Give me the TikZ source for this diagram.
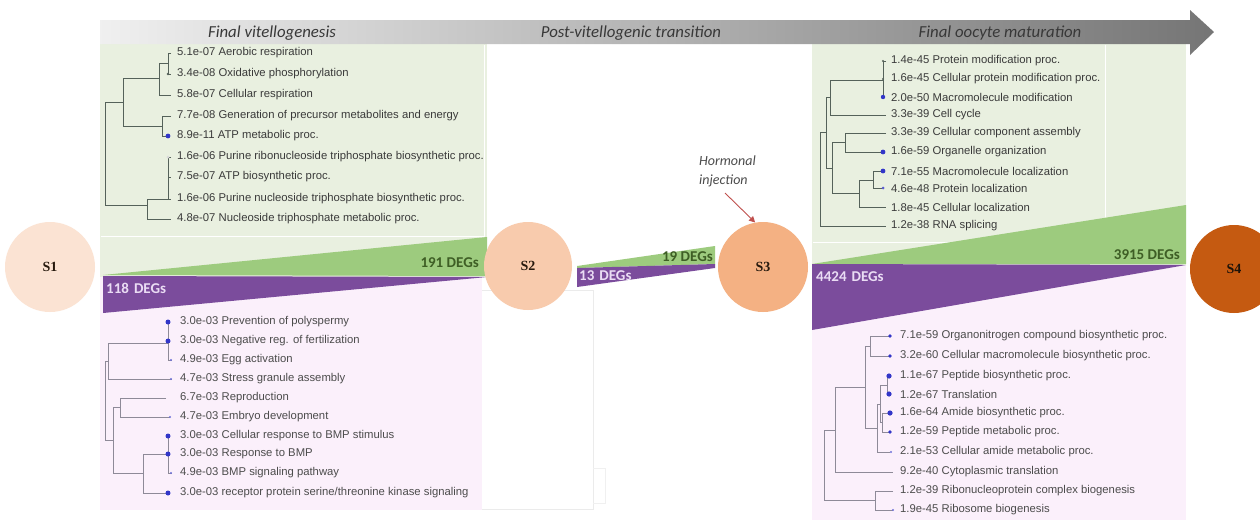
\documentclass[tikz,border=0pt]{standalone}
\usepackage{fontspec}
\setmainfont{Liberation Sans}
\newfontfamily\calfont{Carlito}
\newfontfamily\serfont{Liberation Serif}
\usetikzlibrary{arrows.meta}
\definecolor{boxgreen}{HTML}{E9F0E0}
\definecolor{boxpink}{HTML}{FBF0FB}
\definecolor{wedgegreen}{HTML}{9DCB7E}
\definecolor{wedgepurple}{HTML}{7B4C9C}
\definecolor{degdark}{HTML}{3E5E25}
\definecolor{deglight}{HTML}{EADCF4}
\definecolor{treegreen}{HTML}{55625A}
\definecolor{treepink}{HTML}{8E8A98}
\definecolor{dotblue}{HTML}{3236C8}
\definecolor{txtgray}{HTML}{3A3A3A}
\definecolor{sone}{HTML}{FBE3D3}
\definecolor{stwo}{HTML}{F8CBAD}
\definecolor{sthree}{HTML}{F4B183}
\definecolor{sfour}{HTML}{C55A11}
\definecolor{injred}{HTML}{C0504D}
\tikzset{
  treetext/.style={anchor=west, inner sep=0pt, text=txtgray, font=\fontsize{11.3}{12}\selectfont},
  gtree/.style={draw=treegreen, line width=0.8pt},
  ptree/.style={draw=treepink, line width=0.8pt},
  title/.style={inner sep=0pt, text=black!78, font=\calfont\itshape\fontsize{16.8}{18}\selectfont},
  hormtext/.style={inner sep=0pt, text=black!70, font=\calfont\itshape\fontsize{14}{16}\selectfont},
  deg/.style={inner sep=0pt, font=\calfont\bfseries\fontsize{15}{16}\selectfont},
  stage/.style={circle, inner sep=0pt, font=\serfont\bfseries\fontsize{14}{16}\selectfont, text=black!80!brown},
}
\begin{document}
\begin{tikzpicture}[x=1pt,y=-1pt]
\useasboundingbox (0,0) rectangle (1260,520);
\fill[white] (0,0) rectangle (1260,520);

% ---------- background boxes ----------
\fill[boxgreen] (100,44) rectangle (487,277);
\draw[white, line width=1pt] (101,236) -- (484,236) -- (484,45);
\fill[boxpink] (100,277) rectangle (482,510);
\draw[black!8, line width=0.6pt] (482,290) -- (593,290) -- (593,509) -- (482,509);
\draw[black!6, line width=0.6pt] (593,468) -- (605,468) -- (605,503) -- (593,503);
\fill[boxgreen] (812,44) rectangle (1186,265);
\draw[white, line width=1pt] (812.5,242) -- (1105,242) -- (1105,45);
\fill[boxpink] (812,265) rectangle (1186,520);

% ---------- top arrow ----------
\shade[left color=white!94!black, right color=black!54]
  (100,20) -- (1190,20) -- (1190,10) -- (1214,32) -- (1190,55) -- (1190,44) -- (100,44) -- cycle;
\node[title] (t1) at (272,33) {Final vitellogenesis};
\node[title] (t2) at (631,33) {Post-vitellogenic transition};
\node[title] (t3) at (1000,33) {Final oocyte maturation};

% ---------- wedges ----------
\fill[wedgegreen] (103,275) -- (487,237) -- (487,276) -- cycle;
\fill[wedgepurple] (103,276) -- (487,277) -- (103,313) -- cycle;
\node[deg, text=degdark, anchor=east] (d191) at (479,263) {191 DEGs};
\node[deg, text=deglight, anchor=west] (d118) at (106,288) {118\,\,DEGs};

\fill[wedgegreen] (577,266) -- (715,246) -- (715,264) -- (577,268) -- cycle;
\fill[wedgepurple] (577,268) -- (715,264) -- (715,268) -- (577,287) -- cycle;
\node[deg, text=degdark, anchor=east] (d19) at (713,257) {19 DEGs};
\node[deg, text=deglight, anchor=west] (d13) at (579,276) {13\,\,DEGs};

\fill[wedgegreen] (812,264) -- (1186,205) -- (1186,264) -- cycle;
\fill[wedgepurple] (812,264) -- (1186,265) -- (812,330) -- cycle;
\node[deg, text=degdark, anchor=east] (d3915) at (1180,255) {3915 DEGs};
\node[deg, text=deglight, anchor=west] (d4424) at (816,277) {4424\,\,DEGs};

% ---------- stage circles ----------
\node[stage, fill=sone, minimum size=90pt] (S1) at (50,267) {S1};
\node[stage, fill=stwo, minimum size=88pt] (S2) at (528,266) {S2};
\node[stage, fill=sthree, minimum size=90pt] (S3) at (763,267) {S3};
\node[stage, fill=sfour, minimum size=88pt, text=black!85!brown] (S4) at (1234,269) {S4};

% ---------- hormonal injection ----------
\node[hormtext, anchor=west] (hor) at (699,161) {Hormonal};
\node[hormtext, anchor=west] (inj) at (699,181) {injection};
\coordinate (injstart) at (725,193);
\draw[injred, line width=0.9pt, -{Triangle[length=6pt,width=6pt]}] (injstart) -- (S3.100);

% ---------- left green tree ----------
\foreach \y/\t [count=\i] in {
  53/{5.1e-07 Aerobic respiration},
  74/{3.4e-08 Oxidative phosphorylation},
  95/{5.8e-07 Cellular respiration},
  116/{7.7e-08 Generation of precursor metabolites and energy},
  136/{8.9e-11 ATP metabolic proc.},
  157/{1.6e-06 Purine ribonucleoside triphosphate biosynthetic proc.},
  177/{7.5e-07 ATP biosynthetic proc.},
  199/{1.6e-06 Purine nucleoside triphosphate biosynthetic proc.},
  219/{4.8e-07 Nucleoside triphosphate metabolic proc.}}
  \node[treetext] (gl\i) at (177,\y) {\t};
\draw[gtree] (171,53) -- (168,53) -- (168,74) -- (171,74);
\draw[gtree] (168,63) -- (159,63) -- (159,95) -- (171,95);
\draw[gtree] (171,116) -- (162,116) -- (162,136) -- (168,136);
\draw[gtree] (159,78) -- (123,78) -- (123,126) -- (162,126);
\draw[gtree] (171,157) -- (168,157) -- (168,199) -- (171,199);
\draw[gtree] (168,177) -- (171,177);
\draw[gtree] (168,199) -- (147,199) -- (147,219) -- (171,219);
\draw[gtree] (123,102) -- (105,102) -- (105,205) -- (147,205);
\fill[treegreen] (168,74) circle (1.3);
\fill[dotblue] (168,136) circle (2.4);
\fill[black!15] (168,157) circle (1.5);

% ---------- left pink tree ----------
\foreach \y/\t [count=\i] in {
  322/{3.0e-03 Prevention of polyspermy},
  341/{3.0e-03 Negative reg. of fertilization},
  360/{4.9e-03 Egg activation},
  379/{4.7e-03 Stress granule assembly},
  398/{6.7e-03 Reproduction},
  417/{4.7e-03 Embryo development},
  436/{3.0e-03 Cellular response to BMP stimulus},
  454/{3.0e-03 Response to BMP},
  473/{4.9e-03 BMP signaling pathway},
  493/{3.0e-03 receptor protein serine/threonine kinase signaling}}
  \node[treetext, text=black!70] (pl\i) at (180,\y) {\t};
\draw[ptree] (168,322) -- (168,360) -- (172,360);
\draw[ptree] (168,343) -- (108,343) -- (108,379) -- (172,379);
\draw[ptree] (166,398) -- (120,398) -- (120,417) -- (170,417);
\draw[ptree] (168,436) -- (168,473) -- (172,473);
\draw[ptree] (168,454) -- (143,454) -- (143,493) -- (168,493);
\draw[ptree] (120,407) -- (113,407) -- (113,473) -- (143,473);
\draw[ptree] (108,361) -- (105,361) -- (105,440) -- (113,440);
\foreach \p in {(168,322),(168,341),(168,436),(168,454),(168,493)}
  \fill[dotblue] \p circle (2.5);
\foreach \p in {(171,360),(171,379),(170,417),(171,473)}
  \fill[dotblue!70] \p circle (1.2);

% ---------- right green tree ----------
\foreach \y/\t [count=\i] in {
  61/{1.4e-45 Protein modification proc.},
  79/{1.6e-45 Cellular protein modification proc.},
  97/{2.0e-50 Macromolecule modification},
  115/{3.3e-39 Cell cycle},
  133/{3.3e-39 Cellular component assembly},
  152/{1.6e-59 Organelle organization},
  171/{7.1e-55 Macromolecule localization},
  188/{4.6e-48 Protein localization},
  207/{1.8e-45 Cellular localization},
  226/{1.2e-38 RNA splicing}}
  \node[treetext] (gr\i) at (891,\y) {\t};
\draw[gtree] (886,61) -- (883,61) -- (883,97);
\draw[gtree] (883,80) -- (830,80) -- (830,115) -- (886,115);
\draw[gtree] (886,133) -- (845,133) -- (845,152) -- (883,152);
\draw[gtree] (883,171) -- (873,171) -- (873,188) -- (883,188);
\draw[gtree] (873,180) -- (859,180) -- (859,207) -- (886,207);
\draw[gtree] (845,142) -- (832,142) -- (832,193) -- (859,193);
\draw[gtree] (830,97) -- (826,97) -- (826,168) -- (832,168);
\draw[gtree] (826,132) -- (820,132) -- (820,226) -- (886,226);
\fill[treegreen] (883,61) circle (1.2);
\fill[treegreen] (883,79) circle (1.2);
\fill[dotblue] (883,97) circle (2.2);
\fill[dotblue] (883,152) circle (2.4);
\fill[dotblue] (883,171) circle (2.4);
\fill[dotblue!80] (883,188) circle (1.5);

% ---------- right pink tree ----------
\foreach \y/\t [count=\i] in {
  336/{7.1e-59 Organonitrogen compound biosynthetic proc.},
  356/{3.2e-60 Cellular macromolecule biosynthetic proc.},
  376/{1.1e-67 Peptide biosynthetic proc.},
  394/{1.2e-67 Translation},
  413/{1.6e-64 Amide biosynthetic proc.},
  432/{1.2e-59 Peptide metabolic proc.},
  452/{2.1e-53 Cellular amide metabolic proc.},
  472/{9.2e-40 Cytoplasmic translation},
  491/{1.2e-39 Ribonucleoprotein complex biogenesis},
  510/{1.9e-45 Ribosome biogenesis}}
  \node[treetext, text=black!70] (pr\i) at (900,\y) {\t};
\draw[ptree] (890,336) -- (870,336) -- (870,356) -- (890,356);
\draw[ptree] (889,376) -- (887,376) -- (887,394) -- (889,394);
\draw[ptree] (890,413) -- (882,413) -- (882,432) -- (890,432);
\draw[ptree] (887,385) -- (880,385) -- (880,422) -- (882,422);
\draw[ptree] (880,404) -- (877,404) -- (877,452) -- (890,452);
\draw[ptree] (870,346) -- (865,346) -- (865,428) -- (877,428);
\draw[ptree] (865,387) -- (835,387) -- (835,472) -- (893,472);
\draw[ptree] (893,491) -- (875,491) -- (875,510) -- (893,510);
\draw[ptree] (835,430) -- (824,430) -- (824,500) -- (875,500);
\foreach \p in {(890,336),(890,356),(890,432)}
  \fill[dotblue] \p circle (1.8);
\foreach \p in {(889,376),(889,394),(890,413)}
  \fill[dotblue] \p circle (2.6);
\foreach \p in {(891,452),(893,510)}
  \fill[dotblue!70] \p circle (1.2);
\end{tikzpicture}
\end{document}
